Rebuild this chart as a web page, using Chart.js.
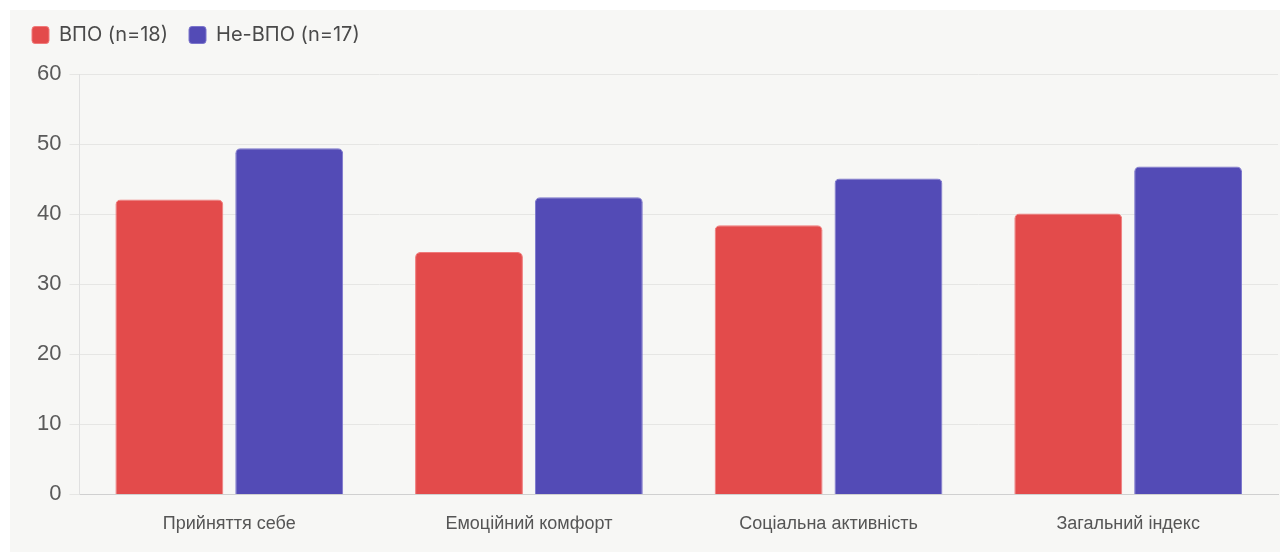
<!DOCTYPE html>
<html>
<head>
<meta charset="utf-8">
<script src="https://cdn.jsdelivr.net/npm/chart.js@4/dist/chart.umd.min.js"></script>
<style>
  html, body { margin: 0; padding: 0; background: #fff; }
  #panel { position: absolute; left: 10px; top: 10px; width: 1270px; height: 542px; background: #f7f7f5; }
  #wrap { position: absolute; left: 0; top: 0; width: 1280px; height: 552px; }
</style>
</head>
<body>
<div id="panel"></div>
<div id="wrap"><canvas id="scaleChart"></canvas></div>
<script>
// Scale scores by group
var categories = ['Прийняття себе', 'Емоційний комфорт', 'Соціальна активність', 'Загальний індекс'];
var vpoValues = [42.1, 34.6, 38.4, 40.1];
var nonVpoValues = [49.4, 42.4, 45.1, 46.8];
var yTicks = [0, 10, 20, 30, 40, 50, 60];

// a bit of room under the legend
var legendGap = {
  id: 'legendGap',
  beforeInit: function (chart) {
    var fit = chart.legend.fit;
    chart.legend.fit = function () {
      fit.bind(chart.legend)();
      this.height += 19;
    };
  }
};

var ctx = document.getElementById('scaleChart');
var scaleChart = new Chart(ctx, {
  type: 'bar',
  data: {
    labels: categories,
    datasets: [{
      label: 'ВПО (n=18)',
      data: vpoValues,
      backgroundColor: '#e34b4b',
      borderColor: '#f07a7a',
      borderWidth: 1,
      borderRadius: 5
    }, {
      label: 'Не-ВПО (n=17)',
      data: nonVpoValues,
      backgroundColor: '#534bb6',
      borderColor: '#7c76cc',
      borderWidth: 1,
      borderRadius: 5
    }]
  },
  plugins: [legendGap],
  options: {
    responsive: true,
    maintainAspectRatio: false,
    animation: false,
    layout: {
      padding: { top: 4, left: 11, right: 2, bottom: 6 }
    },
    plugins: {
      legend: {
        display: true,
        align: 'start',
        labels: {
          boxWidth: 17,
          boxHeight: 17,
          useBorderRadius: true,
          borderRadius: 3,
          color: '#4a4a4a',
          font: { family: 'Inter', size: 20 },
          padding: 21
        }
      },
      tooltip: { enabled: false }
    },
    scales: {
      x: {
        grid: { display: false },
        border: { color: '#d0d0d0' },
        ticks: {
          color: '#555',
          font: { family: 'Liberation Sans', size: 18 },
          padding: 11
        }
      },
      y: {
        min: 0,
        max: 60,
        afterBuildTicks: function (axis) {
          axis.ticks = yTicks.map(function (v) { return { value: v }; });
        },
        afterFit: function (axis) {
          axis.width += 18;
        },
        grid: { color: '#e6e6e4', tickLength: 10 },
        border: { color: '#e0e0e0' },
        ticks: {
          color: '#5a5a5a',
          font: { family: 'Liberation Sans', size: 22 },
          padding: 8
        }
      }
    }
  }
});
</script>
</body>
</html>
